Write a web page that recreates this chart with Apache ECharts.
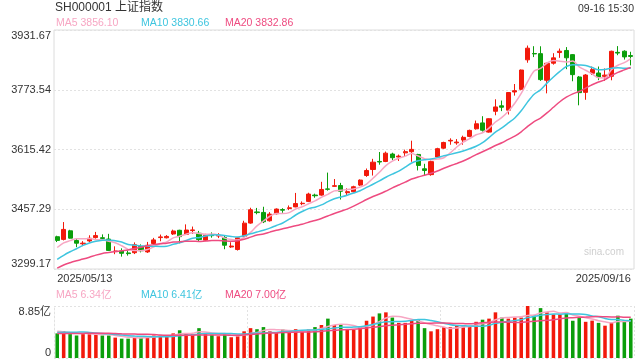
<!DOCTYPE html>
<html><head><meta charset="utf-8">
<script src="https://cdn.jsdelivr.net/npm/echarts@6/dist/echarts.min.js"></script>
<style>html,body{margin:0;padding:0;background:#fff}#c{width:640px;height:360px}</style>
</head><body><div id="c"></div><script>
const dates = ['2025/05/13','2025/05/14','2025/05/15','2025/05/16','2025/05/19','2025/05/20','2025/05/21','2025/05/22','2025/05/23','2025/05/26','2025/05/27','2025/05/28','2025/05/29','2025/05/30',
'2025/06/03','2025/06/04','2025/06/05','2025/06/06','2025/06/09','2025/06/10','2025/06/11','2025/06/12','2025/06/13','2025/06/16','2025/06/17','2025/06/18','2025/06/19','2025/06/20','2025/06/23','2025/06/24','2025/06/25','2025/06/26','2025/06/27','2025/06/30',
'2025/07/01','2025/07/02','2025/07/03','2025/07/04','2025/07/07','2025/07/08','2025/07/09','2025/07/10','2025/07/11','2025/07/14','2025/07/15','2025/07/16','2025/07/17','2025/07/18','2025/07/21','2025/07/22','2025/07/23','2025/07/24','2025/07/25','2025/07/28','2025/07/29','2025/07/30','2025/07/31',
'2025/08/01','2025/08/04','2025/08/05','2025/08/06','2025/08/07','2025/08/08','2025/08/11','2025/08/12','2025/08/13','2025/08/14','2025/08/15','2025/08/18','2025/08/19','2025/08/20','2025/08/21','2025/08/22','2025/08/25','2025/08/26','2025/08/27','2025/08/28','2025/08/29',
'2025/09/01','2025/09/02','2025/09/03','2025/09/04','2025/09/05','2025/09/08','2025/09/09','2025/09/10','2025/09/11','2025/09/12','2025/09/15','2025/09/16'];

const opens = [3384.6,3377.5,3400.2,3374.5,3365.8,3373.4,3382.3,3381.9,3378.4,3345.1,3346.9,3341.7,3342.3,3359.0,3344.4,3366.5,3382.3,3381.8,3391.8,3401.6,3390.8,3400.9,3393.8,3375.5,3389.0,3386.5,3382.4,3357.5,3350.7,3385.3,3420.7,3450.2,3448.9,3426.8,3445.4,3456.5,3459.4,3463.5,3472.0,3478.1,3494.8,3494.7,3511.1,3517.9,3520.0,3501.0,3503.6,3521.2,3546.6,3562.5,3583.8,3583.7,3603.4,3595.5,3606.5,3609.5,3602.3,3564.4,3548.9,3595.5,3619.0,3638.0,3633.0,3640.5,3650.0,3670.2,3685.8,3661.5,3716.6,3731.0,3719.5,3767.6,3774.6,3852.7,3869.5,3869.1,3798.6,3843.8,3872.0,3877.5,3866.5,3807.3,3766.6,3817.1,3817.9,3809.0,3809.2,3872.5,3875.5,3864.0];
const highs = [3387.2,3423.4,3402.9,3379.8,3372.9,3388.4,3397.3,3390.8,3392.2,3359.2,3353.9,3347.9,3369.6,3364.3,3370.8,3381.5,3390.3,3388.9,3403.3,3403.0,3417.3,3411.5,3400.0,3392.3,3396.0,3394.0,3386.8,3370.0,3383.3,3426.8,3461.3,3460.8,3463.9,3449.7,3459.5,3460.1,3467.3,3500.5,3478.0,3501.0,3498.5,3529.9,3554.3,3537.3,3527.1,3512.6,3519.5,3536.2,3565.1,3590.7,3608.8,3610.0,3606.9,3602.0,3615.0,3638.7,3604.0,3577.6,3586.0,3620.0,3636.0,3645.0,3643.0,3652.0,3668.0,3692.0,3703.5,3698.0,3748.3,3745.0,3767.0,3788.7,3827.0,3890.6,3888.8,3888.6,3845.0,3870.3,3882.6,3886.4,3868.0,3810.0,3815.0,3835.0,3835.0,3829.9,3877.0,3889.0,3878.0,3874.0];
const lows = [3370.5,3374.8,3379.9,3356.9,3359.7,3369.9,3379.6,3378.4,3346.6,3338.3,3331.9,3334.6,3338.7,3343.1,3341.7,3362.9,3372.6,3380.1,3389.2,3367.2,3389.1,3392.1,3370.8,3372.8,3382.0,3381.0,3351.5,3355.0,3348.0,3380.9,3419.0,3444.0,3420.7,3424.7,3443.6,3447.7,3455.0,3462.6,3468.0,3476.3,3487.8,3493.0,3506.6,3517.0,3483.0,3493.0,3501.8,3518.6,3543.0,3546.5,3575.2,3582.0,3587.5,3585.0,3598.0,3583.0,3560.0,3547.6,3546.0,3593.0,3617.0,3628.0,3628.0,3628.0,3648.0,3668.0,3662.9,3660.0,3706.0,3717.0,3708.0,3758.0,3772.0,3845.0,3860.0,3797.0,3764.0,3840.0,3858.0,3828.0,3796.0,3732.4,3747.0,3812.7,3799.0,3797.0,3798.6,3865.0,3853.4,3838.0];
const closes = [3374.87,3403.95,3380.82,3367.46,3367.58,3380.48,3387.57,3380.19,3348.37,3346.84,3340.69,3339.93,3363.45,3347.49,3361.98,3376.20,3384.10,3385.36,3399.77,3384.82,3402.32,3402.66,3377.00,3388.73,3387.40,3388.81,3362.11,3359.90,3381.58,3420.57,3455.97,3448.45,3424.23,3444.43,3457.75,3454.79,3461.15,3472.32,3473.13,3497.48,3493.05,3509.68,3510.18,3519.65,3505.00,3503.78,3516.83,3534.48,3559.79,3581.86,3582.30,3605.73,3593.66,3597.94,3609.71,3615.72,3573.21,3559.95,3583.31,3617.60,3633.99,3639.67,3635.13,3647.55,3665.92,3683.46,3666.44,3696.77,3728.03,3727.29,3766.21,3771.10,3825.76,3883.56,3868.38,3800.35,3843.60,3857.93,3875.53,3858.13,3813.56,3765.88,3812.51,3826.84,3807.29,3812.22,3875.31,3870.60,3860.50,3861.87];
// volume in 亿
const volumes = [4.19,4.54,4.07,3.83,4.19,4.07,4.0,3.83,3.83,3.47,3.29,3.29,3.59,3.47,3.71,3.83,3.83,3.89,4.19,4.72,4.19,4.07,5.08,4.07,3.95,3.71,4.0,3.53,3.71,4.54,5.08,4.9,5.26,4.54,4.3,4.84,4.42,4.9,4.42,4.84,5.26,5.62,6.7,5.62,5.62,4.9,4.78,5.26,6.34,7.05,7.59,7.77,6.88,5.98,5.98,6.34,6.52,5.08,4.54,4.9,5.26,5.26,5.62,5.38,5.38,6.16,6.52,6.7,7.77,6.88,6.7,6.88,6.88,8.85,7.24,8.49,7.77,7.42,7.42,7.59,6.34,6.8,6.16,6.36,5.98,5.5,5.98,7.2,6.34,6.7];
// closes / volumes of the 19 sessions before the first date (for the moving averages)
const priorCloses = [3238.23,3262.81,3267.66,3276.00,3280.34,3276.73,3291.43,3299.76,3296.36,3297.29,3295.06,3288.41,3286.65,3279.03,3316.11,3342.67,3352.00,3342.00,3369.24];
const priorVolumes = [4.3,4.1,3.9,3.8,3.7,3.6,4.0,4.1,4.3,4.2,4.0,3.9,3.8,3.9,4.9,5.1,4.6,4.3,4.6];

const priceTicks = [3299.17,3457.29,3615.42,3773.54,3931.67];
const priceTickLabels = ['3299.17','3457.29','3615.42','3773.54','3931.67'];
const volTicks = [0,8.85];
const volTickLabels = ['0','8.85亿'];
const headerTitle = 'SH000001 上证指数';
const headerTime = '09-16 15:30';
const priceLegend = ['MA5 3856.10','MA10 3830.66','MA20 3832.86'];
const volLegend = ['MA5 6.34亿','MA10 6.41亿','MA20 7.00亿'];
const watermark = 'sina.com';

const UP = '#f2190b', DOWN = '#0b9e0b';
const C5 = '#f7a6c3', C10 = '#3ec5df', C20 = '#ee4b80';

function movingAvg(prior, vals, n) {
  const all = prior.concat(vals);
  return vals.map((_, i) => {
    const end = prior.length + i; let s = 0;
    for (let k = end - n + 1; k <= end; k++) s += all[k];
    return +(s / n).toFixed(3);
  });
}
const kData = opens.map((o, i) => [o, closes[i], lows[i], highs[i]]);
const pMA5 = movingAvg(priorCloses, closes, 5), pMA10 = movingAvg(priorCloses, closes, 10), pMA20 = movingAvg(priorCloses, closes, 20);
const vMA5 = movingAvg(priorVolumes, volumes, 5), vMA10 = movingAvg(priorVolumes, volumes, 10), vMA20 = movingAvg(priorVolumes, volumes, 20);

const chart = echarts.init(document.getElementById('c'), null, {renderer: 'canvas'});
const font = 'Arial, "Liberation Sans", "Noto Sans CJK SC", sans-serif';
const dotted = {color: '#e2e2e2', width: 1, type: [2, 2]};
function maLine(name, data, color, xi, yi) {
  return {name, type: 'line', data, xAxisIndex: xi, yAxisIndex: yi, symbol: 'none', smooth: 0.3,
    lineStyle: {color, width: 1.5}, z: 5, silent: true};
}
function legendTexts(items, y) {
  const xs = [56, 141, 225], cs = [C5, C10, C20];
  return items.map((t, i) => ({type: 'text', left: xs[i], top: y, style: {text: t, fill: cs[i], font: '10.5px ' + font}}));
}
chart.setOption({
  animation: false,
  backgroundColor: '#fff',
  textStyle: {fontFamily: font},
  grid: [
    {left: 54, right: 6, top: 30, height: 239, show: true, borderColor: '#dcdcdc', borderWidth: 1, backgroundColor: 'transparent'},
    {left: 54, right: 6, top: 306, height: 52}
  ],
  graphic: [
    {type: 'text', left: 55, top: 2, style: {text: headerTitle, fill: '#333', font: '12px ' + font}},
    {type: 'text', right: 6, top: 4, style: {text: headerTime, fill: '#333', font: '10.5px ' + font}},
    {type: 'text', left: 584, top: 247, style: {text: watermark, fill: '#cfcfcf', font: '10px ' + font}},
    ...legendTexts(priceLegend, 18),
    ...legendTexts(volLegend, 290)
  ],
  xAxis: [
    {type: 'category', gridIndex: 0, data: dates, boundaryGap: true,
      axisLine: {show: false}, axisTick: {show: false}, splitLine: {show: false},
      axisLabel: {show: true, color: '#333', fontSize: 11, margin: 4,
        interval: (i) => i === 0 || i === dates.length - 1,
        alignMinLabel: 'left', alignMaxLabel: 'right'}},
    {type: 'category', gridIndex: 1, data: dates, boundaryGap: true,
      axisLine: {show: false}, axisTick: {show: false}, axisLabel: {show: false},
      splitLine: {show: true, lineStyle: dotted, interval: (i) => i === 30 || i === 60}}
  ],
  yAxis: [
    {type: 'value', gridIndex: 0, min: priceTicks[0], max: priceTicks[priceTicks.length - 1], scale: true,
      axisLine: {show: false}, axisTick: {show: false, customValues: priceTicks},
      axisLabel: {color: '#333', fontSize: 11, margin: 3, customValues: priceTicks,
        formatter: (v) => priceTickLabels[priceTicks.indexOf(v)] ?? '',
        verticalAlignMinLabel: 'bottom', verticalAlignMaxLabel: 'top'},
      splitLine: {show: true, lineStyle: dotted}},
    {type: 'value', gridIndex: 1, min: volTicks[0], max: volTicks[1],
      axisLine: {show: true, lineStyle: dotted}, axisTick: {show: false, customValues: volTicks},
      axisLabel: {color: '#333', fontSize: 11, margin: 3, customValues: volTicks,
        formatter: (v) => volTickLabels[volTicks.indexOf(v)] ?? '',
        verticalAlignMinLabel: 'bottom', verticalAlignMaxLabel: 'top'},
      splitLine: {show: true, lineStyle: dotted}}
  ],
  series: [
    {name: 'K', type: 'candlestick', data: kData, xAxisIndex: 0, yAxisIndex: 0, barWidth: '70%',
      itemStyle: {color: UP, color0: DOWN, borderColor: UP, borderColor0: DOWN, borderWidth: 1}, z: 3},
    maLine('MA5', pMA5, C5, 0, 0),
    maLine('MA10', pMA10, C10, 0, 0),
    maLine('MA20', pMA20, C20, 0, 0),
    {name: 'VOL', type: 'bar', data: volumes, xAxisIndex: 1, yAxisIndex: 1, barWidth: '55%',
      itemStyle: {color: (p) => closes[p.dataIndex] >= opens[p.dataIndex] ? UP : DOWN}, z: 3},
    maLine('VMA5', vMA5, C5, 1, 1),
    maLine('VMA10', vMA10, C10, 1, 1),
    maLine('VMA20', vMA20, C20, 1, 1)
  ]
});
</script></body></html>
